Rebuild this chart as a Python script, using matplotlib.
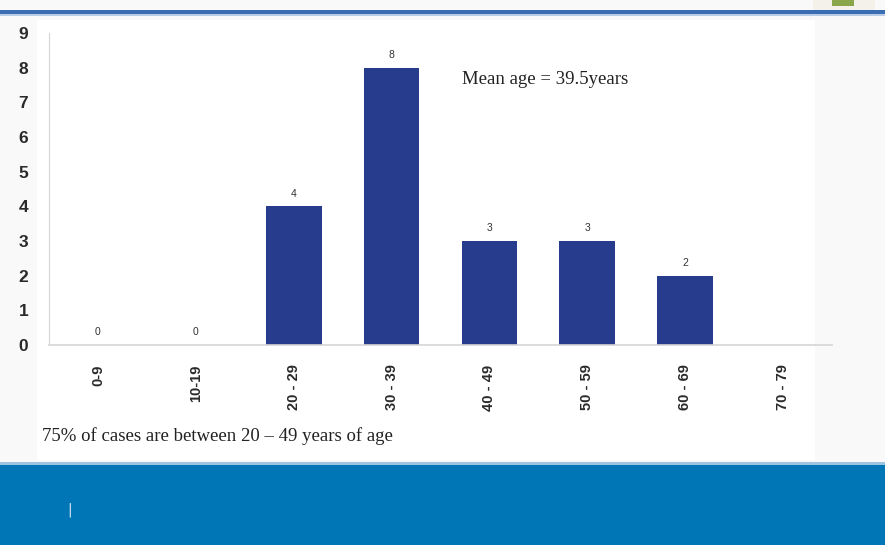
import matplotlib.pyplot as plt
import matplotlib.patches as mpatches

age_groups = ["0-9", "10-19", "20 - 29", "30 - 39", "40 - 49", "50 - 59", "60 - 69", "70 - 79"]
cases = [0, 0, 4, 8, 3, 3, 2, None]
mean_note = "Mean age = 39.5years"
range_note = "75% of cases are between 20 \u2013 49 years of age"

BAR_COLOR = "#283c8e"
BAND_COLOR = "#0076b6"

W, H = 885, 545
fig = plt.figure(figsize=(W / 100, H / 100), dpi=100)
fig.patch.set_facecolor("#f9f9f9")

# slide decorations: top rule, logo gap, white panel, bottom band
fig.add_artist(mpatches.Rectangle((0, 1 - 14 / H), 1, 4 / H, transform=fig.transFigure,
                                  color="#3b6db3", lw=0))
fig.add_artist(mpatches.Rectangle((0, 1 - 16 / H), 1, 2 / H, transform=fig.transFigure,
                                  color="#b9cce6", lw=0))
fig.add_artist(mpatches.Rectangle((813 / W, 1 - 10 / H), 62 / W, 10 / H, transform=fig.transFigure,
                                  color="#f4f1ea", lw=0))
fig.add_artist(mpatches.Rectangle((832 / W, 1 - 6 / H), 22 / W, 6 / H, transform=fig.transFigure,
                                  color="#8aa64a", lw=0))
fig.add_artist(mpatches.Rectangle((37 / W, 1 - 460 / H), 778 / W, 440 / H, transform=fig.transFigure,
                                  color="white", lw=0, zorder=0))
fig.add_artist(mpatches.Rectangle((0, 0), 1, 80 / H, transform=fig.transFigure,
                                  color=BAND_COLOR, lw=0))
fig.add_artist(mpatches.Rectangle((0, 80 / H), 1, 3 / H, transform=fig.transFigure,
                                  color="#9cc3e0", lw=0))
fig.text(70 / W, 1 - 510 / H, "|", color="#dbe8f4", fontsize=10, ha="center", va="center")

ax = fig.add_axes([49 / W, 200 / H, 783 / W, 312 / H])
ax.set_facecolor("none")

x = list(range(len(age_groups)))
heights = [v if v is not None else 0 for v in cases]
ax.bar(x, heights, width=0.57, color=BAR_COLOR, zorder=2)
for xi, v in zip(x, cases):
    if v is None:
        continue
    ax.text(xi, v + 0.22, str(v), ha="center", va="bottom", fontsize=7.5,
            family="Liberation Sans", color="#333333")

ax.set_xlim(-0.5, len(age_groups) - 0.5)
ax.set_ylim(0, 9)
ax.set_yticks(range(0, 10))
ax.set_xticks(x)
ax.set_xticklabels(age_groups, rotation=90, fontsize=10.5, family="Liberation Sans",
                   fontweight="bold", color="#2a2a2a")
ax.tick_params(axis="x", length=0, pad=14)
ax.tick_params(axis="y", length=0, pad=15, labelsize=12.5)
for lbl in ax.get_yticklabels():
    lbl.set_family("Liberation Sans")
    lbl.set_fontweight("bold")
    lbl.set_color("#2a2a2a")

for side in ("top", "right"):
    ax.spines[side].set_visible(False)
ax.spines["left"].set_color("#d6d6d6")
ax.spines["bottom"].set_color("#d6d6d6")
ax.spines["left"].set_linewidth(0.8)
ax.spines["bottom"].set_linewidth(1.2)

fig.text(462 / W, 1 - 80 / H, mean_note, fontsize=13.5, family="Liberation Serif",
         color="#222222", va="center",
         bbox=dict(boxstyle="square,pad=0.9", fc="white", ec="none"))
fig.text(42 / W, 1 - 436 / H, range_note, fontsize=13.5, family="Liberation Serif",
         color="#222222", va="center")

fig.savefig("out.png", dpi=100, facecolor=fig.get_facecolor())
